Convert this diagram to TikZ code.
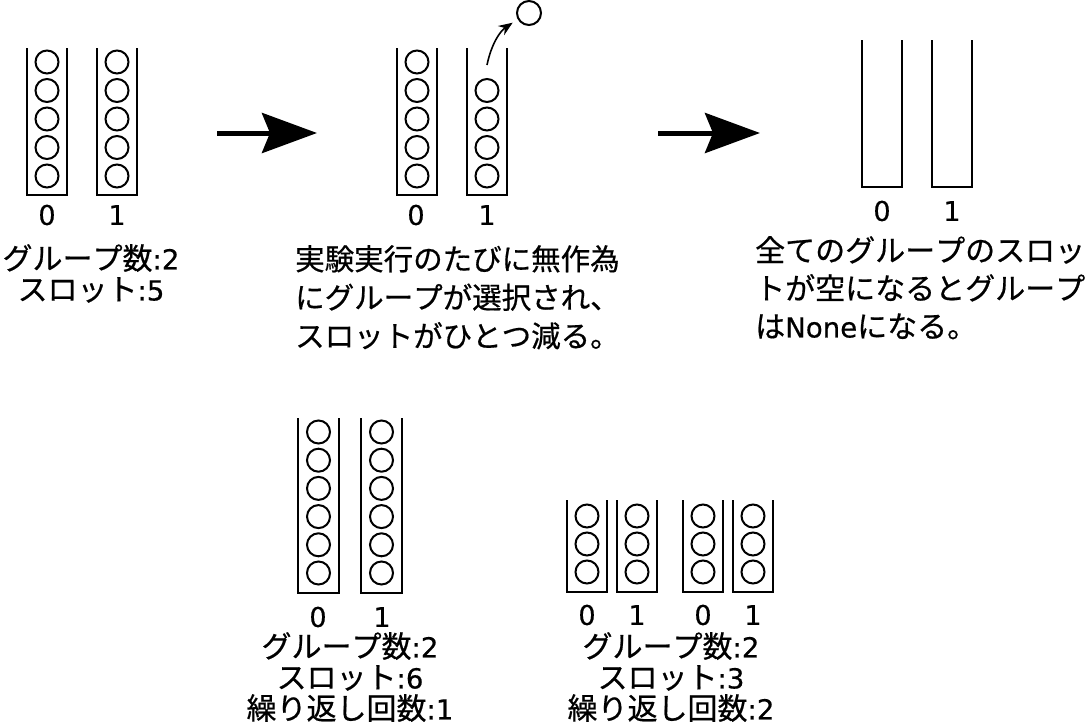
\documentclass[tikz,border=0pt]{standalone}
\usepackage{fontspec}
\setmainfont{DejaVu Sans}[Scale=0.92, FakeBold=0.5]
\newfontfamily\jp{Noto Sans CJK JP}[Kerning=Off, FakeBold=0.6]
\usetikzlibrary{arrows.meta}
\tikzset{
  wall/.style={line width=2.4pt},
  slot/.style={line width=2pt},
  num/.style={font=\fontsize{29.5}{30}\selectfont, inner sep=0pt},
  info/.style={font=\fontsize{30}{31}\selectfont, align=center, inner sep=0pt, anchor=north},
  memo/.style={font=\fontsize{29.5}{38.5}\selectfont, align=left, inner sep=0pt, anchor=north west},
  bigarrow/.style={line width=5pt, -{Stealth[length=55pt, width=40pt, inset=8pt]}},
}
\begin{document}
\begin{tikzpicture}[x=1pt, y=-1pt]
  \useasboundingbox (0,0) rectangle (1090,726);
  \foreach \x in {27, 97} {
    \draw[wall] (\x,48) -- (\x,195) -- (\x+40,195) -- (\x+40,48);
    \foreach \k in {0,...,4} \draw[slot] (\x+20, 62+28.5*\k) circle (11.5pt);
  }
  \node[num] (a0) at (47,215) {0};
  \node[num] (a1) at (117,215) {1};
  \node[info] (ainfo) at (91,244) {{\jp グループ数}:2\\{\jp スロット}:5};

  \foreach \x in {397, 467} \draw[wall] (\x,48) -- (\x,195) -- (\x+40,195) -- (\x+40,48);
  \foreach \k in {0,...,4} \draw[slot] (417, 62+28.5*\k) circle (11.5pt);
  \foreach \k in {1,...,4} \draw[slot] (487, 62+28.5*\k) circle (11.5pt);
  \node[slot, draw, circle, minimum size=24pt, inner sep=0pt] (ball) at (529,13) {};
  \coordinate (lift) at (487,65);
  \draw[line width=1.6pt, -{Stealth[length=14pt, width=11pt]}, shorten >=6pt] (lift) to[bend left=22] (ball);
  \node[num] (b0) at (416,215) {0};
  \node[num] (b1) at (487,215) {1};
  \node[memo] (bmemo) at (295,245) {{\jp 実験実行のたびに無作為}\\{\jp にグループが選択され、}\\{\jp スロットがひとつ減る。}};

  \foreach \x in {862, 932} \draw[wall] (\x,40) -- (\x,187) -- (\x+40,187) -- (\x+40,40);
  \node[num] (c0) at (882,211) {0};
  \node[num] (c1) at (952,211) {1};
  \node[memo, font=\fontsize{30}{38}\selectfont] (cmemo) at (755,236) {{\jp 全てのグループのスロッ}\\{\jp トが空になるとグループ}\\{\jp は}None{\jp になる。}};

  \coordinate (p0) at (217,133);
  \coordinate (p1) at (317,133);
  \draw[bigarrow] (p0) -- (p1);
  \coordinate (q0) at (658,133);
  \coordinate (q1) at (760,133);
  \draw[bigarrow] (q0) -- (q1);

  \foreach \x in {298, 361} {
    \draw[wall] (\x,418) -- (\x,593) -- (\x+41,593) -- (\x+41,418);
    \foreach \k in {0,...,5} \draw[slot] (\x+20.5, 432+28.2*\k) circle (11.5pt);
  }
  \node[num] (d0) at (318,617) {0};
  \node[num] (d1) at (382,617) {1};
  \node[info] (dinfo) at (350,632) {{\jp グループ数}:2\\{\jp スロット}:6\\{\jp 繰り返し回数}:1};

  \foreach \x in {567, 617, 683, 733} {
    \draw[wall] (\x,500) -- (\x,592) -- (\x+40,592) -- (\x+40,500);
    \foreach \k in {0,1,2} \draw[slot] (\x+20, 516+28*\k) circle (11.5pt);
  }
  \node[num] (e0) at (587,615) {0};
  \node[num] (e1) at (637,615) {1};
  \node[num] (e2) at (703,615) {0};
  \node[num] (e3) at (753,615) {1};
  \node[info] (einfo) at (671,632) {{\jp グループ数}:2\\{\jp スロット}:3\\{\jp 繰り返し回数}:2};
\end{tikzpicture}
\end{document}
